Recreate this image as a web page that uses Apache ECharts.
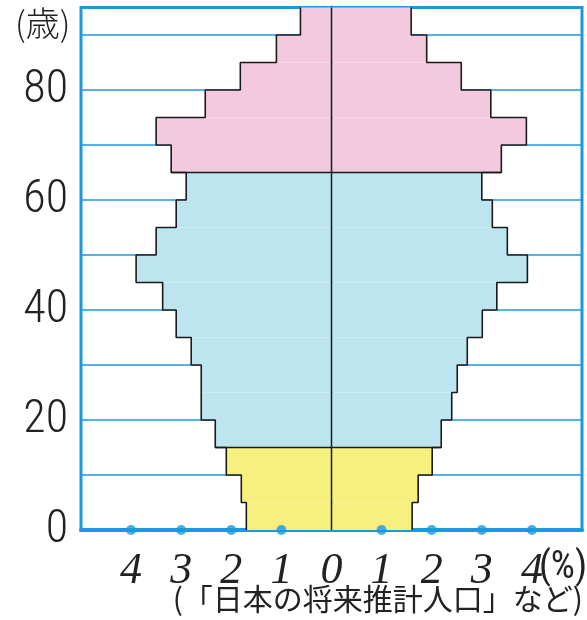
<!DOCTYPE html>
<html>
<head>
<meta charset="utf-8">
<script src="https://cdn.jsdelivr.net/npm/echarts@6/dist/echarts.min.js"></script>
<style>
  html, body { margin: 0; padding: 0; background: #fff; }
  #chart { width: 587px; height: 620px; }
</style>
</head>
<body>
<div id="chart"></div>
<script>
// 年齢階級（5歳ごと、下端の年齢）
const ages = [0, 5, 10, 15, 20, 25, 30, 35, 40, 45, 50, 55, 60, 65, 70, 75, 80, 85, 90]
// 男性・女性の割合（%）
const male = [1.7, 1.8, 2.1, 2.32, 2.6, 2.6, 2.8, 3.1, 3.37, 3.9, 3.5, 3.1, 2.9, 3.2, 3.5, 2.52, 1.82, 1.1, 0.62]
const female = [1.61, 1.73, 2.01, 2.19, 2.4, 2.51, 2.71, 3.01, 3.3, 3.91, 3.51, 3.21, 3.0, 3.39, 3.89, 3.18, 2.59, 1.9, 1.59]
const xTicks = [-4, -3, -2, -1, 1, 2, 3, 4]
const yLabels = [0, 20, 40, 60, 80]

const BLUE = '#1e98dc'
const STEP = 5
const NARROW = "'Roboto Condensed', 'Liberation Sans Narrow', 'DejaVu Sans Condensed', sans-serif"

function fillFor(age) {
  if (age < 15) return '#f7f07e'
  if (age < 65) return '#bce5f0'
  return '#f2c9df'
}

// 外形の階段線
function outline(vals, sign) {
  const pts = []
  vals.forEach((v, i) => {
    pts.push([sign * v, ages[i]])
    pts.push([sign * v, ages[i] + STEP])
  })
  return pts
}

const chart = echarts.init(document.getElementById('chart'))

const lineBase = {
  type: 'line', symbol: 'none', silent: true, z: 5,
  lineStyle: { color: '#1a1a1a', width: 1.6 }
}

chart.setOption({
  animation: false,
  grid: {
    left: 81, right: 5, top: 7.5, bottom: 90,
    show: true, borderColor: BLUE, borderWidth: 3
  },
  xAxis: {
    type: 'value', min: -5, max: 5, interval: 1,
    axisLine: { show: true, lineStyle: { color: BLUE, width: 4 } },
    axisTick: { show: false },
    splitLine: { show: false },
    axisLabel: {
      margin: 19,
      fontFamily: 'Liberation Serif', fontStyle: 'italic', fontSize: 44, color: '#222',
      formatter: (v) => (Math.abs(v) === 5 ? '' : String(Math.abs(v)))
    }
  },
  yAxis: {
    type: 'value', min: 0, max: 95, interval: 10,
    axisLine: { show: true, lineStyle: { color: BLUE, width: 4 } },
    axisTick: { show: false },
    splitLine: { show: true, lineStyle: { color: BLUE, width: 1.5 } },
    axisLabel: {
      margin: 13,
      fontFamily: NARROW, fontWeight: 300,
      fontSize: 46, color: '#222',
      formatter: (v) => (yLabels.includes(v) ? String(v) : '')
    }
  },
  graphic: [
    { type: 'text', left: 15, top: 6, style: { text: '(歳)', font: '300 34px "Noto Sans CJK JP"', fill: '#222' } },
    { type: 'text', left: 216, top: 243, style: { text: '男性', font: '40px "Noto Sans CJK JP"', fill: '#222' } },
    { type: 'text', left: 356, top: 243, style: { text: '女性', font: '40px "Noto Sans CJK JP"', fill: '#222' } },
    { type: 'text', right: 0, top: 549, style: { text: '(%)', font: '38px ' + NARROW, fill: '#222' } },
    { type: 'text', right: 4, top: 584, style: { text: '(「日本の将来推計人口」など)', font: '30px "Noto Sans CJK JP"', fill: '#222' } }
  ],
  series: [
    {
      type: 'custom', z: 3, silent: true,
      data: ages.map((a, i) => [a, male[i], female[i]]),
      renderItem: (params, api) => {
        const a = api.value(0)
        const tl = api.coord([-api.value(1), a + STEP])
        const br = api.coord([api.value(2), a])
        const children = [{
          type: 'rect',
          shape: { x: tl[0], y: tl[1], width: br[0] - tl[0], height: br[1] - tl[1] },
          style: { fill: fillFor(a) }
        }]
        if (a === 15 || a === 65) {
          const i = params.dataIndex
          const l = api.coord([-Math.max(male[i], male[i - 1]), a])
          const r = api.coord([Math.max(female[i], female[i - 1]), a])
          children.push({
            type: 'line', z2: 10,
            shape: { x1: l[0], y1: l[1], x2: r[0], y2: r[1] },
            style: { stroke: '#1a1a1a', lineWidth: 1.6 }
          })
        }
        return { type: 'group', children }
      }
    },
    Object.assign({}, lineBase, { data: outline(male, -1) }),
    Object.assign({}, lineBase, { data: outline(female, 1) }),
    Object.assign({}, lineBase, { data: [[0, 0], [0, 95]], lineStyle: { color: '#1a1a1a', width: 1.5 } }),
    {
      type: 'scatter', z: 6, silent: true, clip: false,
      symbolSize: 10,
      itemStyle: { color: BLUE },
      data: xTicks.map((t) => [t, 0])
    }
  ]
})
</script>
</body>
</html>
